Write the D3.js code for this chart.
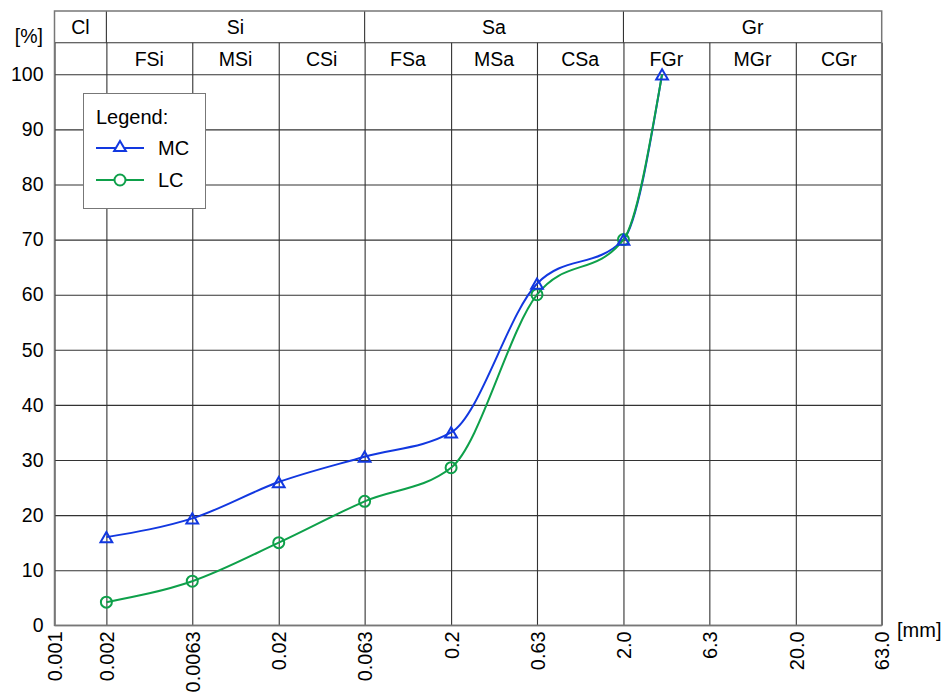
<!DOCTYPE html>
<html>
<head>
<meta charset="utf-8">
<script src="https://cdn.jsdelivr.net/npm/d3@7/dist/d3.min.js"></script>
<style>
  html, body { margin: 0; padding: 0; background: #fff; }
  svg { display: block; font-family: "Liberation Sans", Arial, sans-serif; }
</style>
</head>
<body>
<svg id="chart" width="944" height="694"></svg>
<script>
// Grain size sieve boundaries [mm] and their tick labels
const sizeTicks = [0.001, 0.002, 0.0063, 0.02, 0.063, 0.2, 0.63, 2.0, 6.3, 20.0, 63.0];
const sizeLabels = ["0.001", "0.002", "0.0063", "0.02", "0.063", "0.2", "0.63", "2.0", "6.3", "20.0", "63.0"];
const percentTicks = [0, 10, 20, 30, 40, 50, 60, 70, 80, 90, 100];

// Soil fraction bands shown in the two header rows
const mainFractions = ["Cl", "Si", "Sa", "Gr"];
const mainFrom = [0.001, 0.002, 0.063, 2.0];
const mainTo = [0.002, 0.063, 2.0, 63.0];
const subFractions = ["", "FSi", "MSi", "CSi", "FSa", "MSa", "CSa", "FGr", "MGr", "CGr"];

// Cumulative passing [%] per grain diameter [mm]
const mcSize = [0.002, 0.0063, 0.02, 0.063, 0.2, 0.63, 2.0, 3.35];
const mcPass = [16, 19.4, 26, 30.6, 35, 62, 70, 100];
const lcSize = [0.002, 0.0063, 0.02, 0.063, 0.2, 0.63, 2.0, 3.35];
const lcPass = [4.2, 8, 15, 22.5, 28.6, 60, 70, 100];
const lcMarked = [true, true, true, true, true, true, true, false];

const seriesNames = ["MC", "LC"];
const seriesColors = ["#1238e0", "#0ea04a"];

const svg = d3.select("#chart");

const plotL = 54.5, plotR = 881.7, plotT = 74.3, plotB = 625.3;
const headTop = 11, headMid = 42.7;

const x = d3.scaleLog().domain([0.001, 63]).range([plotL, plotR]);
const y = d3.scaleLinear().domain([0, 100]).range([plotB, plotT]);

const gridColor = "#333";
const frameColor = "#777";

// Horizontal grid + y labels
const yAxis = d3.axisLeft(y).tickValues(percentTicks).tickSize(-(plotR - plotL)).tickPadding(11);
const gy = svg.append("g").attr("transform", `translate(${plotL},0)`).call(yAxis);
gy.select(".domain").remove();
gy.selectAll(".tick line").attr("stroke", gridColor).attr("stroke-width", 1.1);
gy.selectAll(".tick text").attr("fill", "#000").style("font-size", "19.5px")
  .style("font-family", "Liberation Sans, Arial, sans-serif");

// Vertical grid (plot + lower header row) + rotated x labels
const xAxis = d3.axisBottom(x).tickValues(sizeTicks)
  .tickFormat((d, i) => sizeLabels[i]).tickSize(-(plotB - headMid)).tickPadding(0);
const gx = svg.append("g").attr("transform", `translate(0,${plotB})`).call(xAxis);
gx.select(".domain").remove();
gx.selectAll(".tick line").attr("stroke", gridColor).attr("stroke-width", 1.1);
gx.selectAll(".tick text")
  .attr("fill", "#000")
  .style("font-size", "20px")
  .style("font-family", "Liberation Sans, Arial, sans-serif")
  .attr("transform", "rotate(-90)")
  .attr("text-anchor", "end")
  .attr("x", -6)
  .attr("y", 0)
  .attr("dy", "0.36em");

// Header: main fraction row dividers
const head = svg.append("g");
head.selectAll("line.mainDiv")
  .data(mainFrom.slice(1))
  .join("line")
  .attr("x1", d => x(d)).attr("x2", d => x(d))
  .attr("y1", headTop).attr("y2", headMid)
  .attr("stroke", gridColor).attr("stroke-width", 1.1);
head.append("line")
  .attr("x1", plotL).attr("x2", plotR).attr("y1", headMid).attr("y2", headMid)
  .attr("stroke", gridColor).attr("stroke-width", 1.1);

head.selectAll("text.main")
  .data(mainFractions)
  .join("text")
  .attr("x", (d, i) => (x(mainFrom[i]) + x(mainTo[i])) / 2)
  .attr("y", (headTop + headMid) / 2)
  .attr("dy", "0.36em")
  .attr("text-anchor", "middle")
  .style("font-size", "19.5px")
  .text(d => d);

head.selectAll("text.sub")
  .data(subFractions)
  .join("text")
  .attr("x", (d, i) => (x(sizeTicks[i]) + x(sizeTicks[i + 1])) / 2)
  .attr("y", (headMid + plotT) / 2)
  .attr("dy", "0.36em")
  .attr("text-anchor", "middle")
  .style("font-size", "19.5px")
  .text(d => d);

// Outer frame
svg.append("rect")
  .attr("x", plotL).attr("y", headTop)
  .attr("width", plotR - plotL).attr("height", plotB - headTop)
  .attr("fill", "none").attr("stroke", frameColor).attr("stroke-width", 1.5);

// Axis unit labels
svg.append("text").attr("x", 43).attr("y", 43).attr("text-anchor", "end")
  .style("font-size", "19.5px").text("[%]");
svg.append("text").attr("x", 897).attr("y", 637).attr("text-anchor", "start")
  .style("font-size", "20px").text("[mm]");

// Curves
const line = d3.line().x(d => x(d[0])).y(d => y(d[1])).curve(d3.curveMonotoneX);
const triSize = 60;
const triOff = Math.sqrt(triSize / (Math.sqrt(3) * 3)) / 2;

const mcData = mcSize.map((s, i) => [s, mcPass[i]]);
const lcData = lcSize.map((s, i) => [s, lcPass[i]]);

svg.append("path").datum(mcData).attr("d", line)
  .attr("fill", "none").attr("stroke", seriesColors[0]).attr("stroke-width", 2);
svg.append("path").datum(lcData).attr("d", line)
  .attr("fill", "none").attr("stroke", seriesColors[1]).attr("stroke-width", 2);

svg.selectAll("circle.lc")
  .data(lcData.filter((d, i) => lcMarked[i]))
  .join("circle")
  .attr("cx", d => x(d[0])).attr("cy", d => y(d[1])).attr("r", 5.5)
  .attr("fill", "none").attr("stroke", seriesColors[1]).attr("stroke-width", 2);

svg.selectAll("path.mc")
  .data(mcData)
  .join("path")
  .attr("d", d3.symbol().type(d3.symbolTriangle).size(triSize))
  .attr("transform", d => `translate(${x(d[0])},${y(d[1]) + triOff})`)
  .attr("fill", "none").attr("stroke", seriesColors[0]).attr("stroke-width", 2);

// Legend
const lg = svg.append("g");
lg.append("rect").attr("x", 83.5).attr("y", 93.5).attr("width", 122).attr("height", 115)
  .attr("fill", "#fff").attr("stroke", frameColor).attr("stroke-width", 1);
lg.append("text").attr("x", 96).attr("y", 124).style("font-size", "20px").text("Legend:");
const rowsY = [148, 180];
seriesNames.forEach((name, i) => {
  lg.append("line").attr("x1", 96).attr("x2", 144).attr("y1", rowsY[i]).attr("y2", rowsY[i])
    .attr("stroke", seriesColors[i]).attr("stroke-width", 2);
  if (i === 0) {
    lg.append("path").attr("d", d3.symbol().type(d3.symbolTriangle).size(triSize))
      .attr("transform", `translate(120,${rowsY[i] + triOff - 2})`)
      .attr("fill", "#fff").attr("stroke", seriesColors[i]).attr("stroke-width", 2);
  } else {
    lg.append("circle").attr("cx", 120).attr("cy", rowsY[i]).attr("r", 5.5)
      .attr("fill", "#fff").attr("stroke", seriesColors[i]).attr("stroke-width", 2);
  }
  lg.append("text").attr("x", 158).attr("y", rowsY[i]).attr("dy", "0.36em")
    .style("font-size", "20px").text(name);
});
</script>
</body>
</html>
